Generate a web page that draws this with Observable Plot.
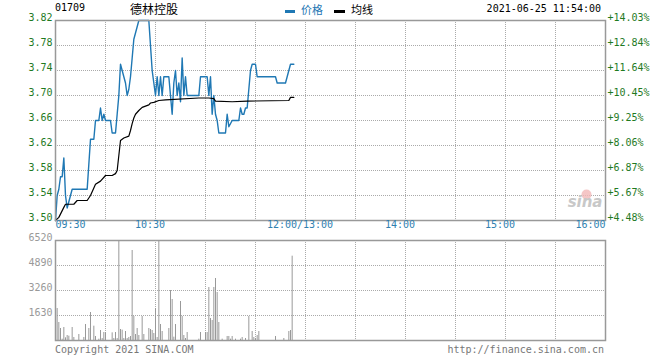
<!DOCTYPE html>
<html><head><meta charset="utf-8">
<script src="https://cdn.jsdelivr.net/npm/d3@7"></script>
<script src="https://cdn.jsdelivr.net/npm/@observablehq/plot@0.6"></script>
<style>
body{margin:0;background:#fff;}
#wrap{position:relative;width:660px;height:360px;overflow:hidden;font-family:"DejaVu Sans Mono",monospace;font-size:10px;}
#wrap svg{position:absolute;left:0;}
.t{position:absolute;white-space:nowrap;line-height:12px;}
.cjk{font-family:"Noto Sans CJK SC",sans-serif;}
</style></head><body>
<div id="wrap">
  <div class="t" style="left:55px;top:2px;color:#000;">01709</div>
  <div class="t cjk" style="left:130px;top:2px;font-size:12px;line-height:14px;color:#000;">德林控股</div>
  <div class="t" style="left:285px;top:10px;width:10px;height:3px;background:#1f78b4"></div>
  <div class="t cjk" style="left:301px;top:3px;font-size:11px;line-height:13px;color:#1f78b4;">价格</div>
  <div class="t" style="left:334px;top:10px;width:11px;height:3px;background:#000"></div>
  <div class="t cjk" style="left:351px;top:3px;font-size:11px;line-height:13px;color:#000;">均线</div>
  <div class="t" style="right:59px;top:3px;color:#000;">2021-06-25 11:54:00</div>
  <div class="t" style="left:55px;top:344px;color:#777;">Copyright 2021 SINA.COM</div>
  <div class="t" style="right:56px;top:344px;color:#777;">http://finance.sina.com.cn</div>
</div>
<script>
// ---- data ----
const priceMinutes = [0,1,2,3,4,5,6,7,8,9,10,19,20,21,23,24,26,27,28,29,30,33,34,36,37,38,39,40,41,42,43,44,45,46,47,48,49,50,56,57,58,59,60,61,62,63,64,65,68,69,70,71,72,73,74,75,76,77,78,79,86,87,91,92,93,94,95,96,97,98,102,103,104,106,110,111,112,113,114,115,116,117,118,120,121,132,133,138,139,140,141,143];
const priceValues = [3.50,3.54,3.55,3.57,3.57,3.60,3.54,3.52,3.53,3.54,3.55,3.55,3.59,3.63,3.63,3.66,3.66,3.68,3.66,3.67,3.66,3.66,3.64,3.64,3.67,3.70,3.75,3.74,3.73,3.72,3.70,3.71,3.73,3.76,3.79,3.80,3.81,3.82,3.82,3.78,3.74,3.72,3.70,3.73,3.70,3.73,3.70,3.73,3.73,3.70,3.67,3.72,3.74,3.70,3.72,3.69,3.76,3.70,3.73,3.70,3.70,3.73,3.73,3.70,3.73,3.67,3.70,3.67,3.66,3.64,3.64,3.67,3.65,3.66,3.66,3.68,3.67,3.67,3.68,3.68,3.71,3.74,3.75,3.75,3.73,3.73,3.72,3.72,3.73,3.74,3.75,3.75];
const avgMinutes = [0,2,5,6,11,13,19,21,24,27,30,34,36,37,38,39,41,44,45,46,47,48,50,52,56,57,59,62,66,86,92,95,96,106,115,140,141,143];
const avgValues = [3.500,3.505,3.521,3.526,3.526,3.532,3.532,3.540,3.558,3.563,3.572,3.572,3.575,3.580,3.604,3.628,3.632,3.635,3.644,3.655,3.664,3.670,3.676,3.681,3.685,3.688,3.689,3.692,3.693,3.696,3.696,3.695,3.691,3.690,3.691,3.692,3.697,3.697];
const volMinutes = [1,2,3,4,5,6,7,8,10,11,14,17,18,20,21,23,24,26,27,28,29,30,34,35,36,37,38,39,40,41,42,43,44,45,46,47,48,49,50,52,53,56,57,58,59,60,61,62,63,64,68,69,70,71,72,75,76,77,78,79,86,87,90,91,92,93,94,95,96,97,98,100,103,104,105,106,108,111,112,114,116,118,119,120,121,122,132,137,140,141,142];
const volValues = [2086,1173,782,87,847,174,326,282,847,196,391,196,1043,782,1825,934,261,87,652,130,521,500,500,130,521,130,6520,717,674,130,587,130,196,261,5867,1565,391,782,326,1565,391,782,717,652,456,2086,196,6520,1043,587,782,3260,2673,217,1043,2543,1565,326,130,521,87,521,521,521,3455,1434,1304,3455,4042,3129,1173,87,261,261,87,261,87,87,196,130,1565,587,196,130,326,587,261,130,587,652,5498];
const priceTicks = [3.50,3.54,3.58,3.62,3.66,3.70,3.74,3.78,3.82];
const priceLabels = ["3.50","3.54","3.58","3.62","3.66","3.70","3.74","3.78","3.82"];
const pctLabels = ["+4.48%","+5.67%","+6.87%","+8.06%","+9.25%","+10.45%","+11.64%","+12.84%","+14.03%"];
const volTicks = [1630,3260,4890,6520];
const volLabels = ["1630","3260","4890","6520"];
const timeTicks = [0,60,150,210,270,330];
const timeLabels = ["09:30","10:30","12:00/13:00","14:00","15:00","16:00"];
const gridMinutes = [30,60,90,120,150,180,210,240,270,300];

const priceRows = priceMinutes.map((m,i)=>({m, p:priceValues[i]}));
const avgRows = avgMinutes.map((m,i)=>({m, p:avgValues[i]}));
const volRows = volMinutes.map((m,i)=>({m, v:volValues[i]}));

const GRID = {stroke:"#aaa", strokeDasharray:"1,1", strokeWidth:1};
const FONT = {fontFamily:"'DejaVu Sans Mono', monospace", fontSize:"10px", background:"transparent", overflow:"visible"};
const GREEN = "#1f7a1f", BLUE_T = "#2f7fb0";
const last = timeTicks.length-1;

const price = Plot.plot({
  width:660, height:235, marginLeft:55, marginRight:55, marginTop:20, marginBottom:15,
  x:{domain:[0,330], axis:null},
  y:{domain:[3.50,3.82], axis:null},
  style:FONT,
  marks:[
    Plot.ruleX(gridMinutes, {x:d=>d, ...GRID}),
    Plot.ruleY(priceTicks.slice(1,-1), {y:d=>d, ...GRID}),
    Plot.dot(["logo"], {frameAnchor:"bottom-right", dx:-19, dy:-26, r:5, fill:"#f2b8b8", fillOpacity:0.8, stroke:"none"}),
    Plot.text(["sina"], {frameAnchor:"bottom-right", dx:-3, dy:-14, text:d=>d, textAnchor:"end", fontSize:15, fontStyle:"italic", fontWeight:"bold", fontFamily:"'DejaVu Sans', sans-serif", fill:"#c8c8c8"}),
    Plot.line(priceRows, {x:"m", y:"p", stroke:"#1f78b4", strokeWidth:1.4}),
    Plot.line(avgRows, {x:"m", y:"p", stroke:"#000", strokeWidth:1.2}),
    Plot.frame({stroke:"#999", strokeWidth:1.5}),
    Plot.text(priceTicks, {y:d=>d, text:(d,i)=>priceLabels[i], frameAnchor:"left", textAnchor:"end", dx:-3, dy:-3, fill:GREEN}),
    Plot.text(priceTicks, {y:d=>d, text:(d,i)=>pctLabels[i], frameAnchor:"right", textAnchor:"start", dx:2, dy:-3, fill:GREEN}),
    Plot.text(timeTicks.slice(0,1), {x:d=>d, text:(d,i)=>timeLabels[0], frameAnchor:"bottom", textAnchor:"start", dy:7, fill:BLUE_T}),
    Plot.text(timeTicks.slice(1,last), {x:d=>d, text:(d,i)=>timeLabels[i+1], frameAnchor:"bottom", textAnchor:"middle", dx:-5.5, dy:7, fill:BLUE_T}),
    Plot.text(timeTicks.slice(last), {x:d=>d, text:(d,i)=>timeLabels[last], frameAnchor:"bottom", textAnchor:"end", dy:7, fill:BLUE_T})
  ]
});
price.style.top = "0px";

const vol = Plot.plot({
  width:660, height:125, marginLeft:55, marginRight:55, marginTop:5, marginBottom:20,
  x:{domain:[0,330], axis:null},
  y:{domain:[0,6520], axis:null},
  style:FONT,
  marks:[
    Plot.ruleX(gridMinutes, {x:d=>d, ...GRID}),
    Plot.ruleY(volTicks.slice(0,-1), {y:d=>d, ...GRID}),
    Plot.ruleX(volRows, {x:"m", y1:0, y2:"v", stroke:"#999", strokeWidth:1}),
    Plot.frame({stroke:"#999", strokeWidth:1.5}),
    Plot.text(volTicks, {y:d=>d, text:(d,i)=>volLabels[i], frameAnchor:"left", textAnchor:"end", dx:-3, dy:-3, fill:"#999"})
  ]
});
vol.style.top = "235px";

const wrap = document.getElementById("wrap");
wrap.prepend(vol);
wrap.prepend(price);
</script>
</body></html>
